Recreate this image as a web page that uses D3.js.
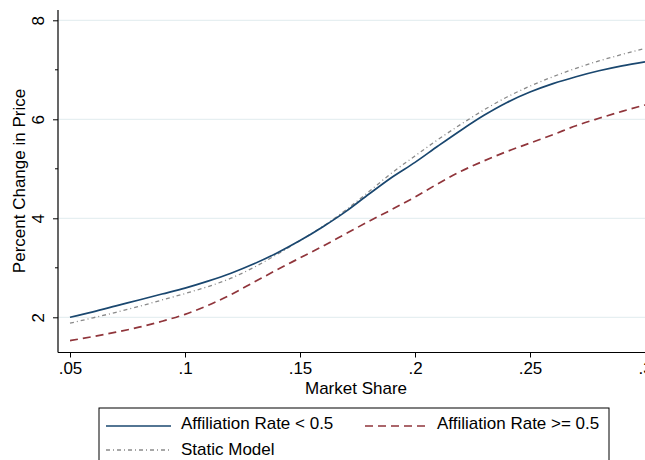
<!DOCTYPE html>
<html>
<head>
<meta charset="utf-8">
<script src="https://cdn.jsdelivr.net/npm/d3@7"></script>
<style>
  html, body { margin: 0; padding: 0; background: #fff; }
  svg { display: block; }
  text { font-family: "Liberation Sans", Arial, sans-serif; fill: #000; }
</style>
</head>
<body>
<svg id="chart" width="645" height="460"></svg>
<script>
// ---- data ----
const marketShare = [0.05,0.06,0.07,0.08,0.09,0.10,0.11,0.12,0.13,0.14,0.15,0.16,0.17,0.18,0.19,0.20,0.21,0.22,0.23,0.24,0.25,0.26,0.27,0.28,0.29,0.30];
const affiliationLow  = [2.00,2.11,2.23,2.35,2.47,2.59,2.73,2.89,3.08,3.30,3.55,3.83,4.14,4.49,4.83,5.13,5.46,5.78,6.08,6.34,6.55,6.72,6.86,6.98,7.08,7.16];
const affiliationHigh = [1.53,1.61,1.70,1.80,1.92,2.06,2.24,2.46,2.71,2.96,3.20,3.44,3.69,3.94,4.18,4.43,4.70,4.95,5.16,5.35,5.52,5.69,5.87,6.02,6.16,6.29];
const staticModel     = [1.88,1.99,2.10,2.22,2.35,2.48,2.62,2.79,3.01,3.27,3.55,3.84,4.17,4.54,4.92,5.26,5.59,5.90,6.19,6.45,6.67,6.86,7.03,7.18,7.31,7.43];
const xTicks = [0.05,0.10,0.15,0.20,0.25,0.30];
const xTickLabels = [".05",".1",".15",".2",".25",".3"];
const yTicks = [2,4,6,8];
const yMinorTicks = [3,5,7];
const seriesNames = ["Affiliation Rate < 0.5","Affiliation Rate >= 0.5","Static Model"];
const xTitle = "Market Share";
const yTitle = "Percent Change in Price";

// ---- layout ----
const svg = d3.select("#chart");
const plotLeft = 58, plotRight = 657, plotTop = 10, plotBottom = 352.5;
const FS = 17;

const x = d3.scaleLinear().domain([0.05, 0.30]).range([70, 645]);
const y = d3.scaleLinear().domain([2, 8]).range([317.3, 20.3]);

// gridlines
svg.append("g").selectAll("line").data(yTicks).join("line")
  .attr("x1", plotLeft).attr("x2", plotRight)
  .attr("y1", d => y(d)).attr("y2", d => y(d))
  .attr("stroke", "#e6eff1").attr("stroke-width", 1.2);

// clip
svg.append("clipPath").attr("id","plotclip").append("rect")
  .attr("x", plotLeft).attr("y", plotTop).attr("width", plotRight - plotLeft).attr("height", plotBottom - plotTop);

const line = d3.line().x((d,i) => x(marketShare[i])).y(d => y(d)).curve(d3.curveMonotoneX);

const styles = [
  {vals: affiliationLow,  color: "#1a476f", width: 1.7, dash: null},
  {vals: affiliationHigh, color: "#90353b", width: 1.7, dash: "8,5"},
  {vals: staticModel,     color: "#8a8a8a", width: 1.3, dash: "4,3,1,3"}
];

const gLines = svg.append("g").attr("clip-path","url(#plotclip)");
[2,0,1].forEach(k => {
  const s = styles[k];
  gLines.append("path").attr("d", line(s.vals))
    .attr("fill","none").attr("stroke", s.color).attr("stroke-width", s.width)
    .attr("stroke-dasharray", s.dash);
});

// axes
const yAxis = d3.axisLeft(y).tickValues(yTicks).tickSize(5).tickPadding(3).tickFormat(d3.format("d"));
const gy = svg.append("g").attr("transform", `translate(${plotLeft},0)`).call(yAxis);
gy.select(".domain").remove();
gy.selectAll(".tick line").attr("stroke","#000").attr("stroke-width",1);
gy.selectAll(".tick text")
  .attr("font-size", FS).attr("font-family", "Liberation Sans, Arial, sans-serif")
  .attr("text-anchor","middle").attr("x", null).attr("dy", null)
  .attr("transform", "translate(-14.5,0) rotate(-90)");
svg.append("g").selectAll("line").data(yMinorTicks).join("line")
  .attr("x1", plotLeft - 3).attr("x2", plotLeft)
  .attr("y1", d => y(d)).attr("y2", d => y(d))
  .attr("stroke", "#000").attr("stroke-width", 1);
svg.append("line").attr("x1", plotLeft).attr("x2", plotLeft)
  .attr("y1", plotTop).attr("y2", plotBottom).attr("stroke","#000").attr("stroke-width",1.2);

const xAxis = d3.axisBottom(x).tickValues(xTicks).tickSize(5).tickPadding(4)
  .tickFormat((d,i) => xTickLabels[i]);
const gx = svg.append("g").attr("transform", `translate(0,${plotBottom})`).call(xAxis);
gx.select(".domain").remove();
gx.selectAll(".tick line").attr("stroke","#000").attr("stroke-width",1);
gx.selectAll(".tick text").attr("font-size", FS).attr("font-family", "Liberation Sans, Arial, sans-serif");
svg.append("line").attr("x1", plotLeft).attr("x2", plotRight)
  .attr("y1", plotBottom).attr("y2", plotBottom).attr("stroke","#000").attr("stroke-width",1.2);

// axis titles
svg.append("text").attr("x", 356).attr("y", 394.3).attr("text-anchor","middle")
  .attr("font-size", FS).text(xTitle);
svg.append("text").attr("transform", `translate(24.5,181) rotate(-90)`).attr("text-anchor","middle")
  .attr("font-size", FS).text(yTitle);

// legend
svg.append("rect").attr("x", 99).attr("y", 408).attr("width", 510).attr("height", 70)
  .attr("fill","#fff").attr("stroke","#000").attr("stroke-width",1);
const legendItems = [
  {k:0, x1:106, x2:171, ly:426, tx:181, ty:429.3},
  {k:1, x1:365, x2:428, ly:426, tx:437, ty:429.3},
  {k:2, x1:106, x2:171, ly:450, tx:181, ty:455}
];
const gLeg = svg.append("g");
legendItems.forEach(it => {
  const s = styles[it.k];
  gLeg.append("line").attr("x1", it.x1).attr("x2", it.x2).attr("y1", it.ly).attr("y2", it.ly)
    .attr("stroke", s.color).attr("stroke-width", s.width).attr("stroke-dasharray", s.dash);
  gLeg.append("text").attr("x", it.tx).attr("y", it.ty).attr("font-size", FS).text(seriesNames[it.k]);
});
</script>
</body>
</html>
